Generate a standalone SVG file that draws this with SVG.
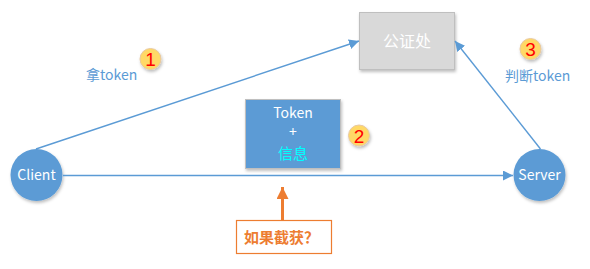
<svg xmlns="http://www.w3.org/2000/svg" width="590" height="269" viewBox="0 0 590 269">
<defs>
<marker id="ab" viewBox="0 0 10 10" refX="10" refY="5" markerWidth="10" markerHeight="10" markerUnits="userSpaceOnUse" orient="auto"><path d="M0,0 L10,5 L0,10 z" fill="#5b9bd5"/></marker>
<marker id="ao" viewBox="0 0 10 10" refX="10" refY="5" markerWidth="4" markerHeight="4" orient="auto"><path d="M0,0 L10,5 L0,10 z" fill="#ed7d31"/></marker>
<filter id="sh" x="-20%" y="-20%" width="150%" height="150%"><feDropShadow dx="1" dy="2" stdDeviation="1.5" flood-color="#000" flood-opacity="0.25"/></filter>
</defs>
<style>
text{font-family:"Noto Sans CJK SC","Noto Sans",sans-serif}
.blue{fill:#5b9bd5}
.w{fill:#fff;font-size:14px}
.lab{fill:#5b9bd5;font-size:14px}
.badge circle{fill:#ffd966;stroke:#e8c8a0;stroke-width:1}
.badge text{fill:#ff0000;font-size:19px;font-family:"Liberation Sans",sans-serif;text-anchor:middle}
.conn line{stroke:#5b9bd5;stroke-width:1.4;fill:none}
</style>
<g id="gongzheng"><rect x="359.5" y="12.5" width="95" height="57" fill="#d9d9d9" stroke="#bfbfbf" filter="url(#sh)"/><text x="407" y="47" fill="#fff" font-size="16" text-anchor="middle">公证处</text></g>
<g id="tokenbox"><rect x="245.5" y="99.5" width="95" height="69" fill="#5b9bd5" stroke="#bfbfbf" filter="url(#sh)"/><text x="293" y="118" class="w" text-anchor="middle">Token</text><text x="293" y="137" class="w" text-anchor="middle">+</text><text x="293" y="159" font-size="15" fill="#00ffff" text-anchor="middle">信息</text></g>
<g id="client"><circle cx="36.5" cy="175" r="26" class="blue" filter="url(#sh)"/><text x="36.5" y="180" class="w" text-anchor="middle">Client</text></g>
<g id="server"><circle cx="539.5" cy="175" r="26" class="blue" filter="url(#sh)"/><text x="539.5" y="180" class="w" text-anchor="middle">Server</text></g>
<g class="conn">
<line x1="36" y1="149" x2="359" y2="41" marker-end="url(#ab)"/>
<line x1="540.5" y1="149" x2="455" y2="41" marker-end="url(#ab)"/>
<line x1="63" y1="175.5" x2="513" y2="175.5" marker-end="url(#ab)"/>
<line x1="282.5" y1="220" x2="282.5" y2="187" marker-end="url(#ao)" style="stroke:#ed7d31;stroke-width:3"/>
</g>
<g id="intercept"><rect x="236.5" y="220.5" width="95" height="33" fill="#fff" stroke="#ed7d31" stroke-width="1.2"/><text x="244" y="243" fill="#ed7d31" font-size="15" font-weight="bold">如果截获？</text></g>
<g id="label1"><text x="86" y="80" class="lab">拿token</text></g>
<g id="label3"><text x="505" y="81" class="lab">判断token</text></g>
<g id="badge1" class="badge"><circle cx="150.5" cy="59" r="10.5" filter="url(#sh)"/><text x="150.5" y="66">1</text></g>
<g id="badge2" class="badge"><circle cx="359" cy="135.5" r="10.5" filter="url(#sh)"/><text x="359" y="142.5">2</text></g>
<g id="badge3" class="badge"><circle cx="530.5" cy="49" r="10.5" filter="url(#sh)"/><text x="530.5" y="56">3</text></g>
</svg>
